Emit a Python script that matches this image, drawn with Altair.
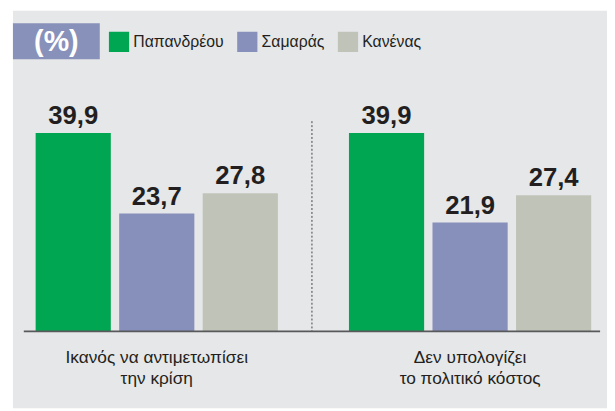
import altair as alt
import pandas as pd

groups = ["Ικανός να αντιμετωπίσει\nτην κρίση", "Δεν υπολογίζει\nτο πολιτικό κόστος"]
series = ["Παπανδρέου", "Σαμαράς", "Κανένας"]
values_group1 = [39.9, 23.7, 27.8]
values_group2 = [39.9, 21.9, 27.4]
colors = ["#00a651", "#8690bb", "#c0c3b8"]

rows = []
for g, vals in zip(groups, [values_group1, values_group2]):
    for s, v in zip(series, vals):
        rows.append({"group": g, "series": s, "value": v,
                     "label": f"{v:.1f}".replace(".", ",")})
df = pd.DataFrame(rows)
cats = pd.DataFrame({"group": groups})
one = pd.DataFrame({"k": [0]})

W, H = 607, 403
NARROW = "Liberation Sans Narrow, Liberation Sans, Arial, sans-serif"
BOLD = "Liberation Sans, Arial, sans-serif"

x_scale = alt.Scale(domain=groups, range=[28, 591], paddingInner=0.2268, paddingOuter=0)
xo_scale = alt.Scale(domain=series, paddingInner=0.1, paddingOuter=0)
y_scale = alt.Scale(domain=[0, 64.5], range=[325, 0], nice=False, zero=True)

X = alt.X("group:N", scale=x_scale, axis=None)
XO = alt.XOffset("series:N", scale=xo_scale)
Y = alt.Y("value:Q", scale=y_scale, axis=None)

bg = alt.Chart(one).mark_rect(color="#e6e7e9").encode(
    x=alt.value(5), x2=alt.value(W), y=alt.value(0), y2=alt.value(H))

header_box = alt.Chart(one).mark_rect(color="#8891b9").encode(
    x=alt.value(5), x2=alt.value(93), y=alt.value(12.7), y2=alt.value(49.3))
header_text = alt.Chart(one).mark_text(
    text="(%)", font=BOLD, fontWeight="bold", fontSize=29, color="white",
    align="center", baseline="middle").encode(x=alt.value(49), y=alt.value(32))

bars = alt.Chart(df).mark_bar().encode(
    x=X, xOffset=XO, y=Y,
    color=alt.Color("series:N", scale=alt.Scale(domain=series, range=colors),
                    legend=alt.Legend(orient="none", legendX=102, legendY=21,
                                      direction="horizontal", title=None,
                                      symbolType="square", symbolSize=420,
                                      symbolStrokeWidth=0, symbolOpacity=1,
                                      labelFont=NARROW, labelFontSize=16,
                                      labelColor="#231f20", labelOffset=4,
                                      columnPadding=13, padding=0)))

values_text = alt.Chart(df).mark_text(
    font=BOLD, fontWeight="bold", fontSize=26, dy=-9, baseline="alphabetic",
    color="#231f20").encode(x=X, xOffset=XO, y=Y, text="label:N")

dotted = alt.Chart(one).mark_rule(strokeDash=[2, 2], color="#444444", strokeWidth=1).encode(
    x=alt.value(308), y=alt.value(112), y2=alt.value(325))

baseline = alt.Chart(one).mark_rule(color="#58595b", strokeWidth=2).encode(
    x=alt.value(16), x2=alt.value(600), y=alt.value(325))

cat_text = alt.Chart(cats).mark_text(
    font=NARROW, fontSize=17.5, lineBreak="\n", lineHeight=21, baseline="alphabetic",
    color="#231f20").encode(x=X, y=alt.value(357), text="group:N")

chart = alt.layer(bg, header_box, header_text, bars, values_text, dotted, baseline, cat_text).properties(
    width=W, height=H, autosize=alt.AutoSizeParams(type="none"), padding=0, background="white"
).configure_view(stroke=None)

chart.save("out.html", embed_options={"renderer": "svg", "actions": False})
